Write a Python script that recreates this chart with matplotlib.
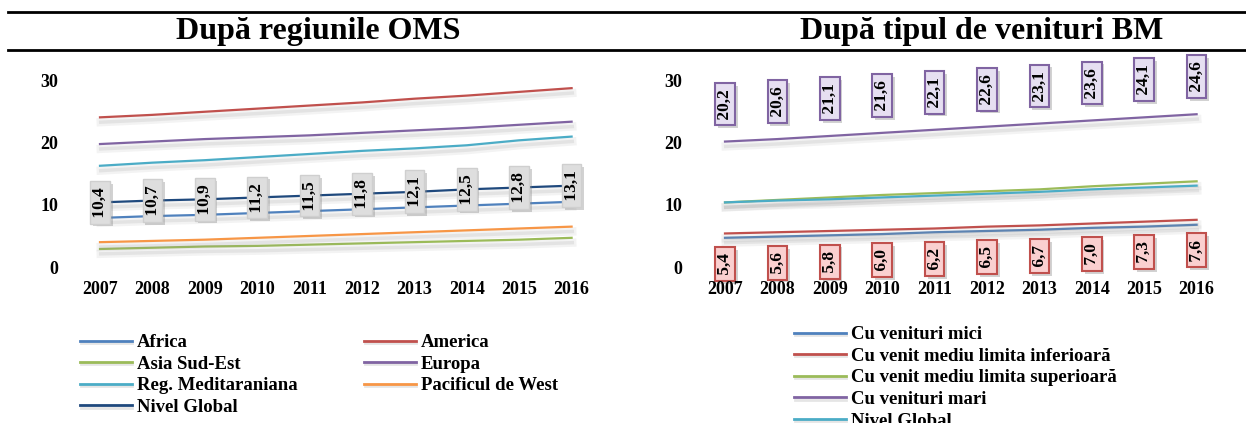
import matplotlib.pyplot as plt
import matplotlib.patheffects as pe
from matplotlib.lines import Line2D

plt.rcParams['font.family'] = ['Liberation Serif', 'DejaVu Serif']
plt.rcParams['font.weight'] = 'bold'

years = [2007, 2008, 2009, 2010, 2011, 2012, 2013, 2014, 2015, 2016]

# regiunile OMS
africa = [7.9, 8.2, 8.4, 8.7, 9.0, 9.3, 9.6, 9.9, 10.2, 10.5]
america = [24.1, 24.5, 25.0, 25.5, 26.0, 26.5, 27.1, 27.6, 28.2, 28.8]
asia_se = [2.9, 3.1, 3.3, 3.4, 3.6, 3.8, 4.0, 4.2, 4.4, 4.7]
europa = [19.8, 20.2, 20.6, 20.9, 21.2, 21.6, 22.0, 22.4, 22.9, 23.4]
mediteraniana = [16.3, 16.8, 17.2, 17.7, 18.2, 18.7, 19.1, 19.6, 20.4, 21.0]
pacific_west = [4.0, 4.2, 4.4, 4.7, 5.0, 5.3, 5.6, 5.9, 6.2, 6.5]
nivel_global = [10.4, 10.7, 10.9, 11.2, 11.5, 11.8, 12.1, 12.5, 12.8, 13.1]

# tipul de venituri BM
venit_mic = [4.7, 4.9, 5.1, 5.3, 5.6, 5.8, 6.0, 6.3, 6.5, 6.8]
venit_mediu_inf = [5.4, 5.6, 5.8, 6.0, 6.2, 6.5, 6.7, 7.0, 7.3, 7.6]
venit_mediu_sup = [10.4, 10.8, 11.2, 11.6, 11.9, 12.2, 12.5, 13.0, 13.4, 13.8]
venit_mare = [20.2, 20.6, 21.1, 21.6, 22.1, 22.6, 23.1, 23.6, 24.1, 24.6]

BLUE = '#4F81BD'
RED = '#C0504D'
GREEN = '#9BBB59'
PURPLE = '#8064A2'
CYAN = '#4BACC6'
ORANGE = '#F79646'
NAVY = '#1F497D'

W, H = 1246, 423
fig = plt.figure(figsize=(W / 100, H / 100), dpi=100)


def px(x0, y0, w, h):
    return [x0 / W, 1 - (y0 + h) / H, w / W, h / H]


shadow = [pe.SimpleLineShadow(offset=(0.5, -3.5), shadow_color='0.55', alpha=0.10, linewidth=6),
          pe.SimpleLineShadow(offset=(0.5, -3.5), shadow_color='0.55', alpha=0.15, linewidth=2.5),
          pe.Normal()]
leg_shadow = [pe.SimpleLineShadow(offset=(0.5, -1.5), shadow_color='0.6', alpha=0.25, linewidth=2),
              pe.Normal()]
box_shadow = [pe.SimplePatchShadow(offset=(2, -2), shadow_rgbFace='0.5', alpha=0.35), pe.Normal()]


def fmt(v):
    return ' ' + f'{v:.1f}'.replace('.', ',') + ' '


def setup(ax, ypad):
    ax.set_xlim(2006.5, 2016.5)
    ax.set_ylim(0, 30)
    ax.set_xticks(years)
    ax.set_yticks([0, 10, 20, 30])
    ax.tick_params(axis='x', length=0, pad=10, labelsize=13)
    ax.tick_params(axis='y', length=0, pad=ypad, labelsize=13)
    for s in ax.spines.values():
        s.set_visible(False)
    ax.set_axisbelow(False)


def labels(ax, values, dy, face, edge, lw):
    for x, v in zip(years, values):
        t = ax.annotate(fmt(v), (x, v), xytext=(0, dy), textcoords='offset points',
                        rotation=90, ha='center', va='center', fontsize=12.5,
                        fontweight='bold', zorder=2.2,
                        bbox=dict(boxstyle='square,pad=0.1', fc=face, ec=edge, lw=lw))
        t.get_bbox_patch().set_path_effects(box_shadow)


# stanga
ax1 = fig.add_axes(px(73.8, 80.7, 524, 186.3))
setup(ax1, 11)
left_series = [
    ('Africa', africa, BLUE),
    ('Asia Sud-Est', asia_se, GREEN),
    ('Reg. Meditaraniana', mediteraniana, CYAN),
    ('Nivel Global', nivel_global, NAVY),
    ('America', america, RED),
    ('Europa', europa, PURPLE),
    ('Pacificul de West', pacific_west, ORANGE),
]
h1 = []
for name, vals, c in left_series:
    ax1.plot(years, vals, color=c, lw=1.6, path_effects=shadow)
    h1.append(Line2D([], [], color=c, lw=2, path_effects=leg_shadow))
labels(ax1, nivel_global, 0, '#DEDEDE', '#CFCFCF', 1.0)

# dreapta
ax2 = fig.add_axes(px(698.8, 80.7, 524, 186.3))
setup(ax2, 12)
right_series = [
    ('Cu venituri mici', venit_mic, BLUE),
    ('Cu venit mediu limita inferioară', venit_mediu_inf, RED),
    ('Cu venit mediu limita superioară', venit_mediu_sup, GREEN),
    ('Cu venituri mari', venit_mare, PURPLE),
    ('Nivel Global', nivel_global, CYAN),
]
h2 = []
for name, vals, c in right_series:
    ax2.plot(years, vals, color=c, lw=1.6, path_effects=shadow)
    h2.append(Line2D([], [], color=c, lw=2, path_effects=leg_shadow))
labels(ax2, venit_mare, 27, '#E6DFF1', PURPLE, 1.5)
labels(ax2, venit_mediu_inf, -22, '#FAD0D0', RED, 1.5)

# titluri si linii orizontale
for yy in (12, 50):
    fig.add_artist(Line2D([8 / W, 1], [1 - yy / H, 1 - yy / H], color='black', lw=2))
fig.text(318 / W, 1 - 31 / H, 'După regiunile OMS', ha='center', va='center',
         fontsize=23, fontweight='bold')
fig.text(982 / W, 1 - 31 / H, 'După tipul de venituri BM', ha='center', va='center',
         fontsize=23, fontweight='bold')

# legende
leg_kw = dict(loc='upper left', frameon=False, fontsize=13.5, handlelength=2.75,
              handletextpad=0.3, labelspacing=0.24, borderpad=0, borderaxespad=0)
fig.legend(h1[:4], [s[0] for s in left_series[:4]],
           bbox_to_anchor=(80 / W, 1 - 334 / H), **leg_kw)
fig.legend(h1[4:], [s[0] for s in left_series[4:]],
           bbox_to_anchor=(364 / W, 1 - 334 / H), **leg_kw)
fig.legend(h2, [s[0] for s in right_series],
           bbox_to_anchor=(794 / W, 1 - 326 / H), **leg_kw)

fig.savefig('out.png', dpi=100)
